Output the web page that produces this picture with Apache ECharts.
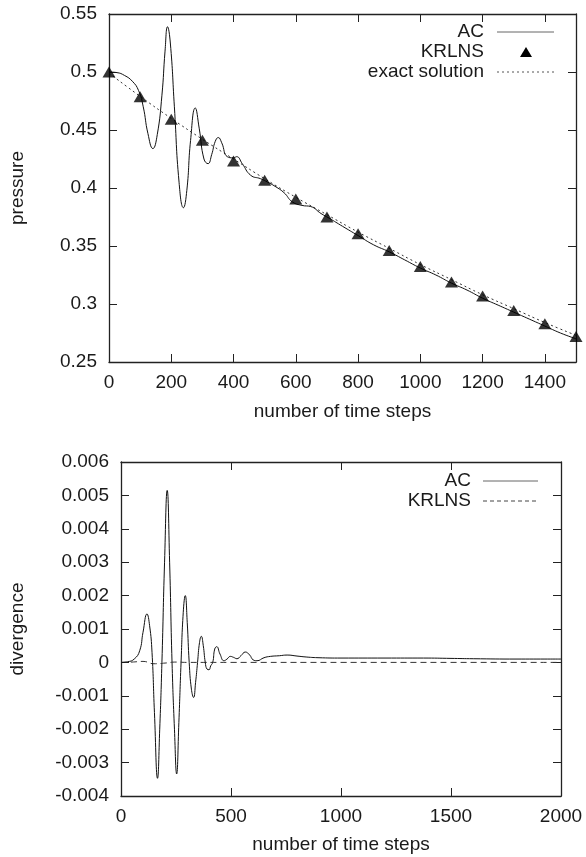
<!DOCTYPE html>
<html>
<head>
<meta charset="utf-8">
<script src="https://cdn.jsdelivr.net/npm/echarts@6/dist/echarts.min.js"></script>
<style>
html,body{margin:0;padding:0;background:#fff;}
#chart{width:586px;height:857px;}
</style>
</head>
<body>
<div id="chart"></div>
<script>
// ---------- Top chart: pressure ----------
const pressureAC_x = [0,25,50,75,95,110,125,141,155,170,180,188,197,210,225,239,250,262,277,290,305,318,330,341,351,362,380,400,410,428,455,487,510,530,562,589,620,648,681,707,750,800,850,900,950,1000,1050,1100,1150,1200,1250,1300,1350,1400,1450,1500];
const pressureAC_y = [0.500,0.4995,0.497,0.492,0.484,0.470,0.447,0.434,0.446,0.480,0.518,0.539,0.525,0.470,0.405,0.383,0.398,0.441,0.469,0.451,0.425,0.421,0.429,0.440,0.4435,0.439,0.427,0.426,0.427,0.421,0.411,0.408,0.405,0.402,0.396,0.388,0.385,0.384,0.378,0.374,0.367,0.359,0.351,0.345,0.338,0.331,0.325,0.318,0.312,0.305,0.299,0.293,0.287,0.281,0.275,0.270];
const krlnsP_x = [0,100,200,300,400,500,600,700,800,900,1000,1100,1200,1300,1400,1500];
const krlnsP_y = [0.500,0.4786,0.4593,0.4412,0.4233,0.4067,0.3905,0.375,0.3606,0.3462,0.3324,0.319,0.3069,0.2945,0.283,0.272];
const exact_x = [0,100,200,300,400,500,600,700,800,900,1000,1100,1200,1300,1400,1500];
const exact_y = [0.499,0.479,0.460,0.442,0.425,0.408,0.392,0.377,0.362,0.348,0.334,0.321,0.308,0.296,0.284,0.273];

// ---------- Bottom chart: divergence ----------
const divAC_x = [0,30,60,85,100,118,130,141,152,166,176,186,198,210,221,232,243,253,263,273,283,292,301,310,320,330,339,348,357,365,374,383,391,400,408,417,426,435,450,468,482,497,512,527,545,565,585,600,618,650,679,720,755,800,845,900,1000,1200,1375,1500,1601,1800,2000];
const divAC_y = [0,0.00002,0.0001,0.00035,0.0009,0.00145,0.0011,0.0003,-0.0015,-0.00347,-0.002,0,0.003,0.00515,0.003,0,-0.002,-0.00334,-0.0018,0,0.0015,0.002,0.0012,0,-0.0008,-0.00105,-0.0006,0,0.0006,0.00078,0.0005,0,-0.0002,-0.00022,-0.0001,0,0.0004,0.00047,0.00025,0.00005,0.0001,0.00018,0.00015,0.00011,0.0002,0.00031,0.00022,0.00008,0.00005,0.00014,0.00018,0.0002,0.00022,0.00019,0.00016,0.00014,0.00013,0.00013,0.00013,0.00012,0.00011,0.0001,0.0001];
const divKR_x = [0,50,100,150,200,250,300,500,1000,1500,2000];
const divKR_y = [0,0.00001,0.00003,-0.00004,-0.00002,0.00001,0,0,0,0,0];

const zip = (xs, ys) => xs.map((x, i) => [x, ys[i]]);

const FONT = 'Liberation Sans, Arial, Helvetica, sans-serif';
const FS = 19;
const TXT = '#1a1a1a';
const LINE = '#222';

function xAxisPair(gi, max, interval, name, nameGap) {
  return [
    {
      type: 'value', gridIndex: gi, position: 'bottom', min: 0, max: max, interval: interval,
      name: name, nameLocation: 'middle', nameGap: nameGap,
      nameTextStyle: {fontFamily: FONT, fontSize: FS, color: TXT},
      axisLine: {show: true, onZero: false, lineStyle: {color: LINE, width: 1.3}},
      axisTick: {show: true, inside: true, length: 8, lineStyle: {color: LINE, width: 1}},
      axisLabel: {show: true, fontFamily: FONT, fontSize: FS, color: TXT, margin: 11,
        showMaxLabel: max === 2000, formatter: v => String(v)},
      splitLine: {show: false}
    },
    {
      type: 'value', gridIndex: gi, position: 'top', min: 0, max: max, interval: interval,
      axisLine: {show: true, onZero: false, lineStyle: {color: LINE, width: 1.3}},
      axisTick: {show: true, inside: true, length: 8, lineStyle: {color: LINE, width: 1}},
      axisLabel: {show: false},
      splitLine: {show: false}
    }
  ];
}
function yAxisPair(gi, min, max, interval, name, nameGap) {
  return [
    {
      type: 'value', gridIndex: gi, position: 'left', min: min, max: max, interval: interval,
      name: name, nameLocation: 'middle', nameGap: nameGap, nameRotate: 90,
      nameTextStyle: {fontFamily: FONT, fontSize: FS, color: TXT},
      axisLine: {show: true, onZero: false, lineStyle: {color: LINE, width: 1.3}},
      axisTick: {show: true, inside: true, length: 8, lineStyle: {color: LINE, width: 1}},
      axisLabel: {show: true, fontFamily: FONT, fontSize: FS, color: TXT, margin: 12,
        formatter: v => String(parseFloat(v.toFixed(4)))},
      splitLine: {show: false}
    },
    {
      type: 'value', gridIndex: gi, position: 'right', min: min, max: max, interval: interval,
      axisLine: {show: true, onZero: false, lineStyle: {color: LINE, width: 1.3}},
      axisTick: {show: true, inside: true, length: 8, lineStyle: {color: LINE, width: 1}},
      axisLabel: {show: false},
      splitLine: {show: false}
    }
  ];
}

const chart = echarts.init(document.getElementById('chart'), null, {renderer: 'canvas'});

const legendFont = FS + 'px ' + FONT;
function legText(txt, rightEdge, cy) {
  return {type: 'text', x: rightEdge, y: cy, style: {text: txt, font: legendFont, fill: TXT, align: 'right', verticalAlign: 'middle'}};
}
const option = {
  backgroundColor: '#fff',
  animation: false,
  grid: [
    {left: 109, top: 14, width: 467, height: 348},
    {left: 121, top: 462, width: 440, height: 334}
  ],
  xAxis: [].concat(xAxisPair(0, 1500, 200, 'number of time steps', 40), xAxisPair(1, 2000, 500, 'number of time steps', 39)),
  yAxis: [].concat(yAxisPair(0, 0.25, 0.55, 0.05, 'pressure', 82), yAxisPair(1, -0.004, 0.006, 0.001, 'divergence', 94)),
  series: [
    {
      name: 'AC', type: 'line', xAxisIndex: 0, yAxisIndex: 0, data: zip(pressureAC_x, pressureAC_y),
      showSymbol: false, symbol: 'none', smooth: 0.5, z: 3,
      lineStyle: {color: '#111', width: 1}
    },
    {
      name: 'exact solution', type: 'line', xAxisIndex: 0, yAxisIndex: 0, data: zip(exact_x, exact_y),
      showSymbol: false, symbol: 'none', smooth: true, z: 2,
      lineStyle: {color: '#333', width: 1, type: [2, 3]}
    },
    {
      name: 'KRLNS', type: 'scatter', xAxisIndex: 0, yAxisIndex: 0, data: zip(krlnsP_x, krlnsP_y),
      symbol: 'triangle', symbolSize: [13, 11], z: 4,
      itemStyle: {color: '#000'}
    },
    {
      name: 'AC ', type: 'line', xAxisIndex: 2, yAxisIndex: 2, data: zip(divAC_x, divAC_y),
      showSymbol: false, symbol: 'none', smooth: 0.5, z: 3,
      lineStyle: {color: '#111', width: 1}
    },
    {
      name: 'KRLNS ', type: 'line', xAxisIndex: 2, yAxisIndex: 2, data: zip(divKR_x, divKR_y),
      showSymbol: false, symbol: 'none', smooth: true, z: 2,
      lineStyle: {color: '#333', width: 1, type: [6, 4]}
    }
  ],
  graphic: [
    // top legend
    legText('AC', 484, 32),
    {type: 'line', shape: {x1: 497, y1: 32, x2: 554, y2: 32}, style: {stroke: '#666', lineWidth: 1}},
    legText('KRLNS', 484, 52),
    {type: 'polygon', shape: {points: [[526, 47], [532, 57], [520, 57]]}, style: {fill: '#000'}},
    legText('exact solution', 484, 72),
    {type: 'line', shape: {x1: 497, y1: 72, x2: 554, y2: 72}, style: {stroke: '#555', lineWidth: 1, lineDash: [2, 3]}},
    // bottom legend
    legText('AC', 471, 481),
    {type: 'line', shape: {x1: 483, y1: 481, x2: 538, y2: 481}, style: {stroke: '#666', lineWidth: 1}},
    legText('KRLNS', 471, 501),
    {type: 'line', shape: {x1: 483, y1: 501, x2: 538, y2: 501}, style: {stroke: '#444', lineWidth: 1, lineDash: [4, 3]}}
  ]
};
chart.setOption(option);
</script>
</body>
</html>
